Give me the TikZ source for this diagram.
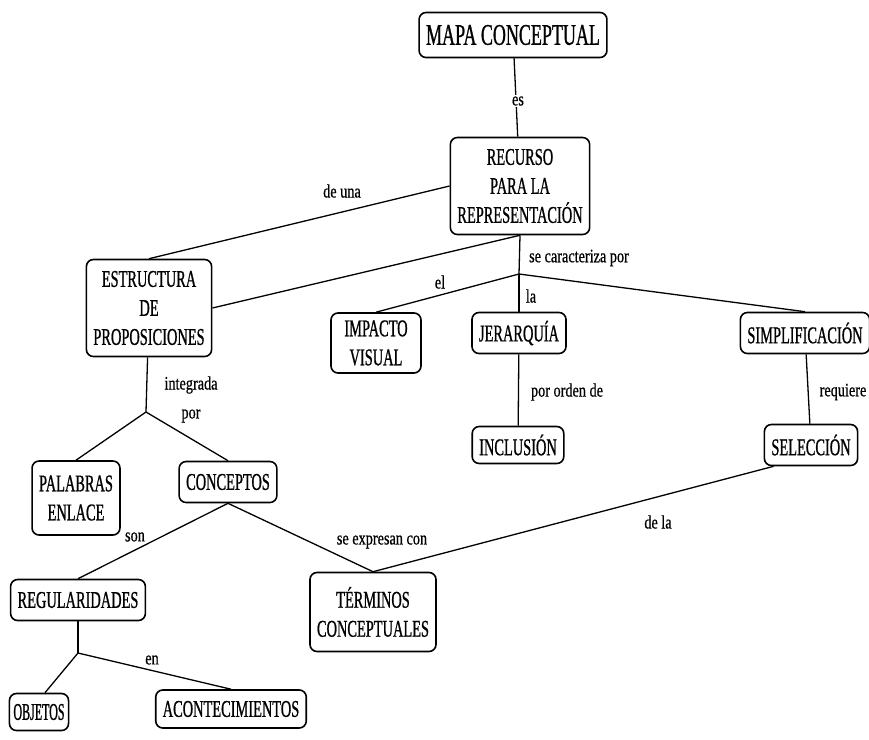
\documentclass[tikz,border=0pt]{standalone}
\usepackage{fontspec}
\setmainfont{Liberation Serif}[FakeStretch=0.6, FakeBold=0.8]
\newfontfamily\estrecha{Liberation Serif}[FakeStretch=0.5, FakeBold=0.8]
\newfontfamily\enlacefont{Liberation Serif}[FakeStretch=0.75, FakeBold=0.6]
\usetikzlibrary{positioning}
\tikzset{
	concepto/.style={draw, rounded corners=7pt, line width=1.6pt, align=center, inner xsep=7pt, inner ysep=5pt, minimum height=41pt, font=\fontsize{24}{29}\selectfont},
	doble/.style={concepto, minimum height=74pt},
	triple/.style={concepto, minimum height=97pt},
	titulo/.style={concepto, minimum height=45pt, font=\fontsize{30}{34}\selectfont},
	enlace/.style={inner sep=1pt, font=\enlacefont\fontsize{19}{21}\selectfont},
	linea/.style={line width=1.3pt, color=black}
}
\begin{document}
\begin{tikzpicture}[x=1pt,y=-1pt]
		\useasboundingbox (0,0) rectangle (869,739);

		\node [titulo] (mapa) at (513, 35) {MAPA CONCEPTUAL};
		\node [triple] (recurso) at (520, 186) {RECURSO\\PARA LA\\REPRESENTACIÓN};
		\node [triple] (estructura) at (149, 308) {ESTRUCTURA\\DE\\PROPOSICIONES};
		\node [concepto, minimum height=60pt, minimum width=90pt] (impacto) at (376, 343) {IMPACTO\\VISUAL};
		\node [concepto] (jerarquia) at (519, 333) {JERARQUÍA};
		\node [concepto] (simplificacion) at (805, 333) {SIMPLIFICACIÓN};
		\node [concepto, minimum height=37pt] (inclusion) at (518, 445) {INCLUSIÓN};
		\node [concepto] (seleccion) at (811, 445) {SELECCIÓN};
		\node [doble] (palabras) at (76, 498) {PALABRAS\\ENLACE};
		\node [concepto] (conceptos) at (228, 482) {CONCEPTOS};
		\node [concepto] (regularidades) at (78, 600) {REGULARIDADES};
		\node [doble, minimum height=79pt] (terminos) at (373, 612) {TÉRMINOS\\CONCEPTUALES};
		\node [concepto, minimum height=37pt, inner xsep=4pt, font=\estrecha\fontsize{24}{29}\selectfont] (objetos) at (39, 712) {OBJETOS};
		\node [concepto, minimum height=38pt] (acontecimientos) at (231, 709) {ACONTECIMIENTOS};

		\coordinate (j1) at (519, 274);
		\coordinate (j2) at (146, 412);
		\coordinate (j3) at (78, 653);

		\draw [linea] (mapa) to (recurso);
		\draw [linea] (estructura.north) to (recurso.west);
		\draw [linea] (estructura.east) to (recurso.south);
		\draw [linea] (recurso.south) to (j1);
		\draw [linea] (j1) to (impacto.north);
		\draw [linea] (j1) to (jerarquia);
		\draw [linea] (j1) to (simplificacion.north);
		\draw [linea] (jerarquia) to (inclusion);
		\draw [linea] (simplificacion) to (seleccion);
		\draw [linea] ([xshift=10pt]seleccion.south west) to (terminos.north);
		\draw [linea] (estructura) to (j2);
		\draw [linea] (j2) to (palabras.north);
		\draw [linea] (j2) to (conceptos.north);
		\draw [linea] (conceptos.south) to (regularidades.north);
		\draw [linea] (conceptos.south) to (terminos.north);
		\draw [linea] (regularidades) to (j3);
		\draw [linea] ([xshift=6pt]objetos.north) to (j3);
		\draw [linea] (j3) to (acontecimientos.north);

		\node [enlace, fill=white] (es) at (518, 101) {es};
		\node [enlace] (deuna) at (342, 191) {de una};
		\node [enlace] (el) at (440, 282) {el};
		\node [enlace] (secaracteriza) at (579, 258) {se caracteriza por};
		\node [enlace] (la) at (531, 296) {la};
		\node [enlace] (pororden) at (567, 392) {por orden de};
		\node [enlace] (requiere) at (843, 392) {requiere};
		\node [enlace] (integrada) at (191, 385) {integrada};
		\node [enlace] (por) at (191, 416) {por};
		\node [enlace] (son) at (135, 537) {son};
		\node [enlace] (seexpresan) at (382, 542) {se expresan con};
		\node [enlace] (dela) at (658, 522) {de la};
		\node [enlace] (en) at (152, 660) {en};
\end{tikzpicture}
\end{document}
